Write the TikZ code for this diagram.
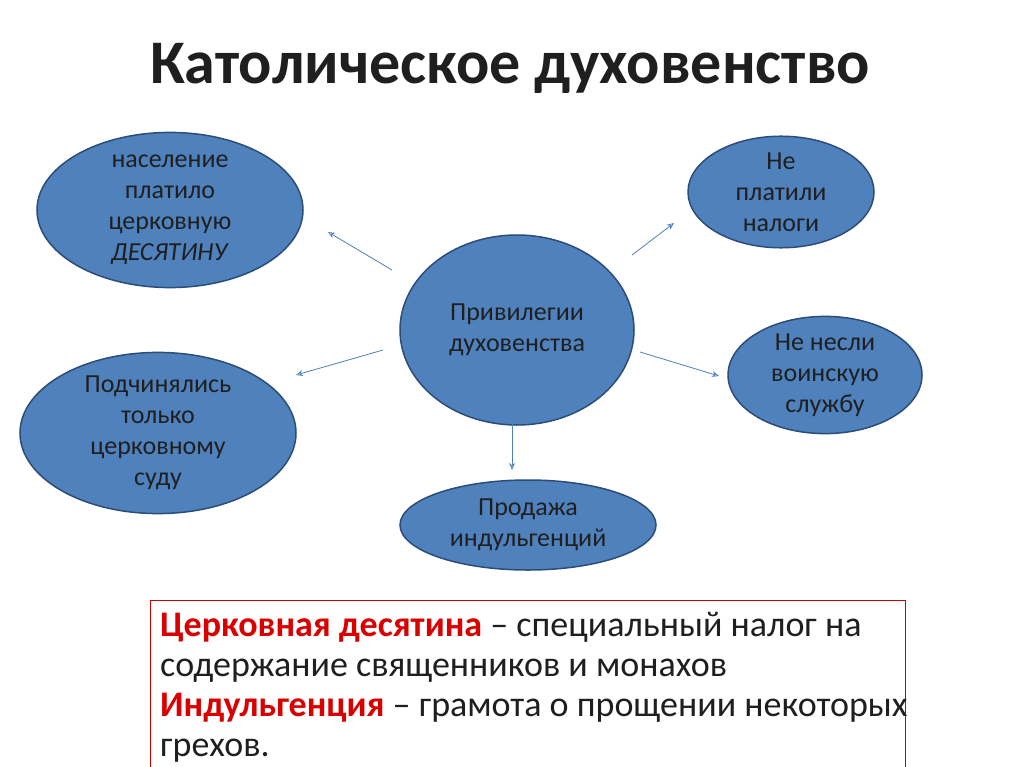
\documentclass[tikz,border=0pt]{standalone}
\usepackage{fontspec}
\setmainfont{Carlito}
\usetikzlibrary{shapes.geometric,arrows.meta}
\definecolor{bfill}{HTML}{4F81BD}
\definecolor{bdraw}{HTML}{2C4D75}
\definecolor{txt}{HTML}{1F1F1F}
\begin{document}
\begin{tikzpicture}[x=1pt,y=-1pt,
  oval/.style={ellipse,fill=bfill,draw=bdraw,line width=1.5pt,inner sep=0pt,
    text=txt,align=center,font=\fontsize{26}{31}\selectfont},
  arr/.style={-{Stealth[length=7pt,width=6pt,open]},draw=bfill,line width=0.8pt}]
\useasboundingbox (0,0) rectangle (1024,767);
\fill[white] (0,0) rectangle (1024,767);
\node[font=\fontsize{62}{66}\selectfont\bfseries,text=txt] (title) at (510,68) {Католическое духовенство};
\node[oval,minimum width=266pt,minimum height=140pt] (tl) at (170,210) {население\\платило\\церковную\\\textit{ДЕСЯТИНУ}};
\node[oval,minimum width=234pt,minimum height=190pt] (c) at (517,330) {Привилегии\\духовенства};
\node[oval,minimum width=186pt,minimum height=104pt] (tr) at (781,192) {Не\\платили\\налоги};
\node[oval,minimum width=194pt,minimum height=110pt] (r) at (825,375) {Не несли\\воинскую\\службу};
\node[oval,minimum width=276pt,minimum height=154pt] (bl) at (158,433) {Подчинялись\\только\\церковному\\суду};
\node[oval,minimum width=256pt,minimum height=90pt] (b) at (528,525) {Продажа\\индульгенций};
\coordinate (a1s) at (392,270); \coordinate (a1e) at (328,232);
\coordinate (a2s) at (383,350); \coordinate (a2e) at (296,375);
\coordinate (a3s) at (512,424); \coordinate (a3e) at (512,470);
\coordinate (a4s) at (640,352); \coordinate (a4e) at (719,376);
\coordinate (a5s) at (632,255); \coordinate (a5e) at (674,223);
\draw[arr] (a1s) -- (a1e);
\draw[arr] (a2s) -- (a2e);
\draw[arr] (a3s) -- (a3e);
\draw[arr] (a4s) -- (a4e);
\draw[arr] (a5s) -- (a5e);
\draw[red!80!black,line width=0.8pt] (150,780) -- (150,600) -- (905,600) -- (905,780);
\node[anchor=north west,align=left,text=txt,inner sep=0pt,
  font=\fontsize{36}{40}\selectfont] (def) at (160,612)
 {\textcolor{red!85!black}{\bfseries Церковная десятина} – специальный налог на\\
  содержание священников и монахов\\
  \textcolor{red!85!black}{\bfseries Индульгенция} – грамота о прощении некоторых\\
  грехов.};
\end{tikzpicture}
\end{document}
